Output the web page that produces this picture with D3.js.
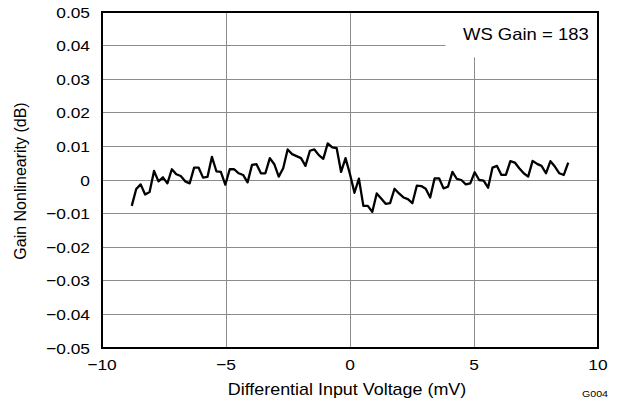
<!DOCTYPE html>
<html><head><meta charset="utf-8">
<script src="https://cdn.jsdelivr.net/npm/d3@7"></script>
<style>body{margin:0;background:#fff}svg{display:block;font-family:"Liberation Sans",Arial,sans-serif}</style>
</head><body><svg id="c" width="631" height="404"></svg>
<script>
const xTicks = [-10, -5, 0, 5, 10];
const yTicks = [0.05, 0.04, 0.03, 0.02, 0.01, 0, -0.01, -0.02, -0.03, -0.04, -0.05];
const yTickLabels = ["0.05","0.04","0.03","0.02","0.01","0","\u22120.01","\u22120.02","\u22120.03","\u22120.04","\u22120.05"];
const xTickLabels = ["\u221210","\u22125","0","5","10"];
const xStart = -8.8, xEnd = 8.8;
const gainNL = [
-0.0077,-0.0027,-0.0013,-0.0043,-0.0036,0.0027,-0.0004,0.0008,-0.0010,0.0032,
0.0017,0.0012,-0.0004,-0.0010,0.0037,0.0037,0.0007,0.0009,0.0069,0.0026,
0.0024,-0.0014,0.0032,0.0032,0.0020,0.0015,-0.0007,0.0045,0.0047,0.0020,
0.0020,0.0065,0.0047,0.0010,0.0035,0.0091,0.0077,0.0071,0.0065,0.0042,
0.0087,0.0091,0.0074,0.0063,0.0109,0.0097,0.0095,0.0024,0.0065,0.0017,
-0.0038,0.0004,-0.0077,-0.0077,-0.0095,-0.0040,-0.0055,-0.0071,-0.0069,-0.0026,
-0.0040,-0.0052,-0.0057,-0.0069,-0.0017,-0.0018,-0.0026,-0.0052,0.0005,0.0005,
-0.0025,-0.0020,0.0024,0.0003,0.0000,-0.0013,-0.0010,0.0023,0.0000,-0.0002,
-0.0023,0.0037,0.0042,0.0015,0.0015,0.0056,0.0052,0.0035,0.0020,0.0010,
0.0057,0.0048,0.0042,0.0020,0.0056,0.0040,0.0020,0.0015,0.0052
];
const annotation = "WS Gain = 183";
const xTitle = "Differential Input Voltage (mV)";
const yTitle = "Gain Nonlinearity (dB)";
const figId = "G004";

const svg = d3.select("#c");
const L = 102, R = 598, T = 12, B = 348;
const SX = 1.12; // horizontal glyph stretch seen in the reference
const x = d3.scaleLinear().domain([-10, 10]).range([L, R]);
const y = d3.scaleLinear().domain([-0.05, 0.05]).range([B, T]);
const n = gainNL.length;
const data = gainNL.map((v, i) => ({x: xStart + i * (xEnd - xStart) / (n - 1), y: v}));

function txt(px, py, s, size, anchor) {
  return svg.append("text")
    .attr("transform", `translate(${px},${py}) scale(${SX},1)`)
    .attr("text-anchor", anchor).attr("font-size", size).attr("fill", "#000").text(s);
}

// grid
svg.append("g").selectAll("line").data(yTicks).join("line")
  .attr("x1", L).attr("x2", R).attr("y1", d => y(d)).attr("y2", d => y(d))
  .attr("stroke", "#8c8c8c").attr("stroke-width", 1).attr("shape-rendering","crispEdges");
svg.append("g").selectAll("line").data(xTicks).join("line")
  .attr("y1", T).attr("y2", B).attr("x1", d => x(d)).attr("x2", d => x(d))
  .attr("stroke", "#8c8c8c").attr("stroke-width", 1).attr("shape-rendering","crispEdges");

// annotation box (covers grid)
svg.append("rect").attr("x", x(3.85)).attr("y", T).attr("width", R - x(3.85)).attr("height", y(0.0365) - T).attr("fill", "#fff");
txt(463, 40, annotation, 16.5, "start");

// line
svg.append("path").datum(data)
  .attr("d", d3.line().x(d => x(d.x)).y(d => y(d.y)))
  .attr("fill", "none").attr("stroke", "#000").attr("stroke-width", 2.3).attr("stroke-linejoin", "round");

// frame
svg.append("rect").attr("x", L).attr("y", T).attr("width", R - L).attr("height", B - T)
  .attr("fill", "none").attr("stroke", "#000").attr("stroke-width", 2);

// y tick labels
yTicks.forEach((d, i) => txt(90, y(d) + 5.6, yTickLabels[i], 15.5, "end"));
// x tick labels
xTicks.forEach((d, i) => txt(x(d), 370, xTickLabels[i], 15.5, "middle"));

txt(347, 395, xTitle, 16, "middle");
svg.append("text").attr("transform", "translate(26,181) rotate(-90) scale(1,1)")
  .attr("text-anchor", "middle").attr("font-size", 16).text(yTitle);
txt(595, 397, figId, 9.5, "middle");
</script></body></html>
